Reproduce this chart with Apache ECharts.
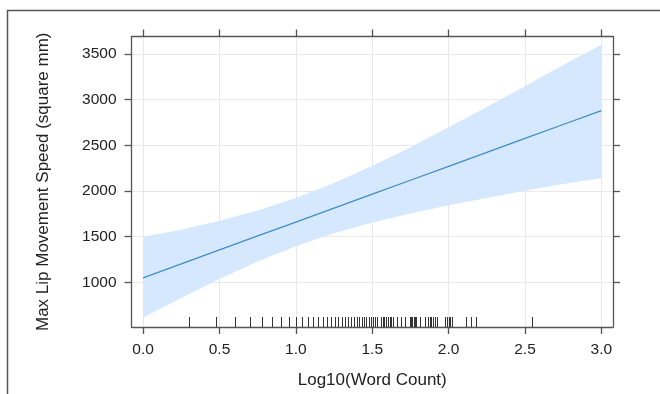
<!DOCTYPE html>
<html>
<head>
<meta charset="utf-8">
<script src="https://cdn.jsdelivr.net/npm/echarts@6/dist/echarts.min.js"></script>
<style>html,body{margin:0;padding:0;background:#fff}#c{width:660px;height:394px}</style>
</head>
<body>
<div id="c"></div>
<script>
// Data
var xGrid = [0, 0.25, 0.5, 0.75, 1.0, 1.25, 1.5, 1.75, 2.0, 2.25, 2.5, 2.75, 3.0];
var fitValues = [1050, 1202, 1355, 1508, 1660, 1812, 1965, 2118, 2270, 2422, 2575, 2728, 2880];
var upperValues = [1500, 1577, 1674, 1787, 1923, 2087, 2275, 2480, 2697, 2920, 3147, 3378, 3600];
var lowerValues = [615, 828, 1036, 1228, 1397, 1538, 1655, 1754, 1843, 1925, 2003, 2078, 2140];
var rugValues = [0.301, 0.477, 0.602, 0.699, 0.778, 0.845, 0.903, 0.954, 1.0,
  1.041, 1.079, 1.114, 1.146, 1.176, 1.204, 1.230, 1.255, 1.279, 1.301, 1.322, 1.342, 1.362, 1.380,
  1.398, 1.415, 1.431, 1.447, 1.462, 1.477, 1.491, 1.505, 1.519, 1.531,
  1.556, 1.568, 1.580, 1.591, 1.602, 1.613, 1.623, 1.633, 1.663, 1.690, 1.716,
  1.748, 1.756, 1.763, 1.771, 1.778, 1.785, 1.813, 1.845, 1.863, 1.875, 1.886, 1.898, 1.908, 1.924,
  1.973, 1.991, 2.000, 2.009, 2.025, 2.111, 2.146, 2.182, 2.544];
var xTicks = [0, 0.5, 1.0, 1.5, 2.0, 2.5, 3.0];
var yTicks = [1000, 1500, 2000, 2500, 3000, 3500];
var xRange = [-0.076, 3.076];
var yRange = [512, 3691];

var font = 'Liberation Sans, Arial, Helvetica, sans-serif';
var axisColor = '#555';
var chart = echarts.init(document.getElementById('c'));

function xAxisDef(pos, show) {
  return {
    type: 'value', position: pos, min: xRange[0], max: xRange[1],
    axisLine: {show: true, onZero: false, lineStyle: {color: axisColor, width: 1.3}},
    axisTick: {show: true, inside: false, length: 7, customValues: xTicks, lineStyle: {color: axisColor, width: 1.3}},
    axisLabel: {show: show, customValues: xTicks, color: '#222', fontSize: 15.5, fontFamily: font, margin: 15,
      formatter: function (v) { return v.toFixed(1); }},
    splitLine: {show: show, lineStyle: {color: '#e8e8e8', width: 1}},
    name: show ? 'Log10(Word Count)' : '', nameLocation: 'middle', nameGap: 45,
    nameTextStyle: {color: '#222', fontSize: 17, fontFamily: font}
  };
}
function yAxisDef(pos, show) {
  return {
    type: 'value', position: pos, min: yRange[0], max: yRange[1],
    axisLine: {show: true, onZero: false, lineStyle: {color: axisColor, width: 1.3}},
    axisTick: {show: true, inside: false, length: 7, customValues: yTicks, lineStyle: {color: axisColor, width: 1.3}},
    axisLabel: {show: show, customValues: yTicks, color: '#222', fontSize: 15.5, fontFamily: font, margin: 15,
      formatter: function (v) { return String(v); }},
    splitLine: {show: show, lineStyle: {color: '#e8e8e8', width: 1}},
    name: show ? 'Max Lip Movement Speed (square mm)' : '', nameLocation: 'middle', nameGap: 80,
    nameTextStyle: {color: '#222', fontSize: 17, fontFamily: font}
  };
}

chart.setOption({
  animation: false,
  backgroundColor: '#fff',
  grid: {left: 131.5, right: 47, top: 36.5, bottom: 64},
  xAxis: [xAxisDef('bottom', true), xAxisDef('top', false)],
  yAxis: [yAxisDef('left', true), yAxisDef('right', false)],
  graphic: [{
    type: 'rect', silent: true, z: 100,
    shape: {x: 7.5, y: 10.5, width: 720, height: 500},
    style: {fill: 'none', stroke: '#555', lineWidth: 1.5}
  }],
  series: [
    {
      type: 'custom', xAxisIndex: 0, yAxisIndex: 0, z: 1, silent: true,
      data: [0],
      renderItem: function (params, api) {
        var pts = [];
        for (var i = 0; i < xGrid.length; i++) pts.push(api.coord([xGrid[i], upperValues[i]]));
        for (var j = xGrid.length - 1; j >= 0; j--) pts.push(api.coord([xGrid[j], lowerValues[j]]));
        return {type: 'polygon', shape: {points: pts}, style: {fill: '#d5e8fd', stroke: 'none'}};
      }
    },
    {
      type: 'line', xAxisIndex: 0, yAxisIndex: 0, z: 3, silent: true,
      data: xGrid.map(function (x, i) { return [x, fitValues[i]]; }),
      showSymbol: false, lineStyle: {color: '#3f8dc7', width: 1.3}
    },
    {
      type: 'custom', xAxisIndex: 0, yAxisIndex: 0, z: 4, silent: true,
      data: rugValues.map(function (v) { return [v]; }),
      renderItem: function (params, api) {
        var p = api.coord([api.value(0), yRange[0]]);
        return {type: 'line', shape: {x1: Math.round(p[0]) + 0.5, y1: p[1], x2: Math.round(p[0]) + 0.5, y2: p[1] - 10},
          style: {stroke: '#333', lineWidth: 1}};
      }
    }
  ]
});
</script>
</body>
</html>
